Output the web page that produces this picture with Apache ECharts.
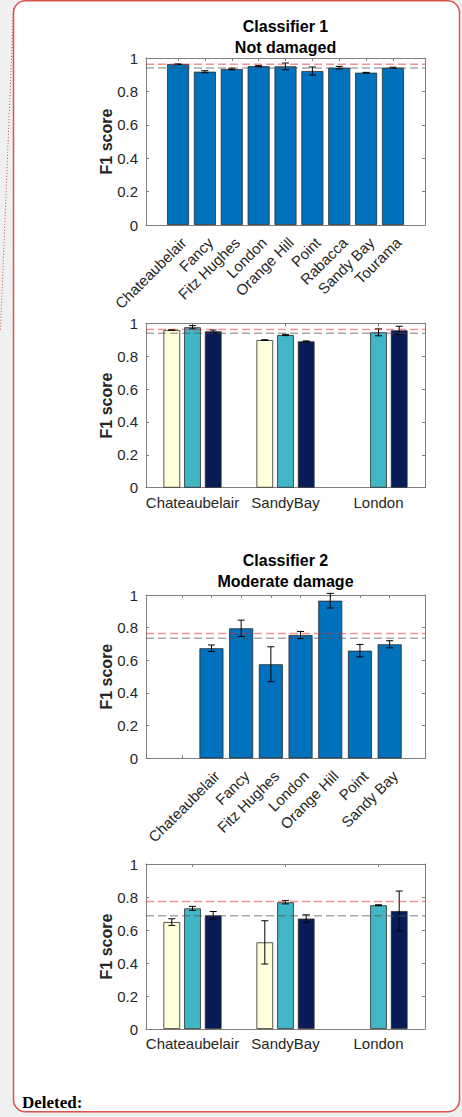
<!DOCTYPE html>
<html><head><meta charset="utf-8">
<script src="https://cdn.jsdelivr.net/npm/echarts@6/dist/echarts.min.js"></script>
<style>html,body{margin:0;padding:0;background:#f0f0f0;}#c{width:462px;height:1117px;}</style>
</head><body><div id="c"></div>
<script>
// ---------- DATA ----------
const sitesC1 = ['Chateaubelair','Fancy','Fitz Hughes','London','Orange Hill','Point','Rabacca','Sandy Bay','Tourama'];
const f1C1 = [0.963,0.918,0.934,0.951,0.950,0.922,0.942,0.912,0.942];
const errC1 = [0.002,0.006,0.005,0.003,0.020,0.024,0.008,0.002,0.003];
const refC1 = [0.962,0.940];            // [red, grey] dashed reference lines

const sitesC2 = ['','Chateaubelair','Fancy','Fitz Hughes','London','Orange Hill','Point','Sandy Bay'];
const f1C2 = [null,0.674,0.796,0.576,0.755,0.965,0.659,0.698];
const errC2 = [null,0.020,0.050,0.107,0.022,0.045,0.038,0.022];
const refC2 = [0.765,0.735];

const groups = ['Chateaubelair','SandyBay','London'];
const ndA = [0.959,0.898,null]; const ndAerr = [0.002,0.002,null];
const ndB = [0.976,0.929,0.945]; const ndBerr = [0.010,0.004,0.021];
const ndC = [0.951,0.890,0.957]; const ndCerr = [0.008,0.003,0.025];
const refND = [0.963,0.939];

const mdA = [0.648,0.525,null]; const mdAerr = [0.020,0.131,null];
const mdB = [0.731,0.768,0.750]; const mdBerr = [0.012,0.010,0.003];
const mdC = [0.689,0.669,0.715]; const mdCerr = [0.023,0.023,0.121];
const refMD = [0.772,0.687];

const titles1 = ['Classifier 1','Not damaged'];
const titles2 = ['Classifier 2','Moderate damage'];
const yName = 'F1 score';

// ---------- STYLE / LAYOUT ----------
const FONT = '"Liberation Sans", Arial, Helvetica, sans-serif';
const AXC = '#7f7f7f', TXT = '#262626';
const BLUE = '#0072BD', YEL = '#FFFFD9', TEAL = '#41B6C4', NAVY = '#081D58';
const FL = 146, FW = 279, LBL_DX = 5.5;
const layouts = [
  {top:58,  height:167,   band:[164.6,406.4], rotate:45, barW:22},
  {top:323.3, height:164.4, band:null, rotate:0, barW:16.7},
  {top:595, height:163.3, band:[166.9,404.5], rotate:45, barW:24},
  {top:864, height:165,   band:null, rotate:0, barW:16.7}
];
const GAPPX = 4;

const grids=[], xAxes=[], yAxes=[], series=[];
const addGrid = g => (grids.push(Object.assign({containLabel:false, outerBoundsMode:'none'}, g)), grids.length-1);
const addX = a => (xAxes.push(a), xAxes.length-1);
const addY = a => (yAxes.push(a), yAxes.length-1);

function errSeries(xi, yi, vals, errs, offset){
  const data=[];
  vals.forEach((v,i)=>{ if(v!=null) data.push([i,v,errs[i]]); });
  return {
    type:'custom', xAxisIndex:xi, yAxisIndex:yi, z:6, silent:true, data,
    renderItem(params, api){
      const i=api.value(0), v=api.value(1), e=api.value(2);
      const t=api.coord([i,v+e]), b=api.coord([i,v-e]);
      const x=t[0]+offset, h=3.5;
      const st={stroke:'#000', lineWidth:1};
      return {type:'group', children:[
        {type:'line', shape:{x1:x,y1:t[1],x2:x,y2:b[1]}, style:st},
        {type:'line', shape:{x1:x-h,y1:t[1],x2:x+h,y2:t[1]}, style:st},
        {type:'line', shape:{x1:x-h,y1:b[1],x2:x+h,y2:b[1]}, style:st}
      ]};
    }
  };
}

function addChart(k, cats, sets, refs){
  const lay = layouts[k];
  const gF = addGrid({left:FL, top:lay.top, width:FW, height:lay.height});
  const bl = lay.band ? lay.band[0] : FL, bw = lay.band ? lay.band[1]-lay.band[0] : FW;
  const gB = addGrid({left:bl, top:lay.top, width:bw, height:lay.height});
  const frameX = pos => ({gridIndex:gF, type:'value', min:0, max:1, position:pos,
    axisLine:{show:true, onZero:false, lineStyle:{color:AXC,width:1}}, axisTick:{show:false},
    axisLabel:{show:false}, splitLine:{show:false}});
  const xF = addX(frameX('bottom')); addX(frameX('top'));
  const tick = {show:true, inside:true, length:3, alignWithLabel:true, interval:0, lineStyle:{color:AXC,width:1}};
  const lblStyle = {interval:0, rotate:lay.rotate, margin: lay.rotate?15:7, fontSize:15, color:TXT, fontFamily:FONT};
  const xB = addX({gridIndex:gB, type:'category', data:cats, position:'bottom', boundaryGap:true,
    axisLine:{show:false, onZero:false}, axisTick:tick,
    axisLabel: lay.rotate ? {show:false} : lblStyle, splitLine:{show:false}});
  addX({gridIndex:gB, type:'category', data:cats, position:'top', boundaryGap:true,
    axisLine:{show:false, onZero:false}, axisTick:tick, axisLabel:{show:false}, splitLine:{show:false}});
  const ytick = {show:true, inside:true, length:3, lineStyle:{color:AXC,width:1}};
  const yF = addY({gridIndex:gF, type:'value', min:0, max:1, interval:0.2, position:'left',
    axisLine:{show:true, onZero:false, lineStyle:{color:AXC,width:1}}, axisTick:ytick,
    axisLabel:{fontSize:15, color:TXT, fontFamily:FONT, margin:8}, splitLine:{show:false},
    name:yName, nameLocation:'middle', nameGap:32, nameMoveOverlap:false,
    nameTextStyle:{fontSize:16, fontWeight:'bold', color:TXT, fontFamily:FONT}});
  addY({gridIndex:gF, type:'value', min:0, max:1, interval:0.2, position:'right',
    axisLine:{show:true, onZero:false, lineStyle:{color:AXC,width:1}}, axisTick:ytick,
    axisLabel:{show:false}, splitLine:{show:false}});
  const yB = addY({gridIndex:gB, type:'value', min:0, max:1, show:false});
  if (lay.rotate) {
    // rotated tick labels, anchored slightly right of the tick as in the original
    const gL = addGrid({left:bl+LBL_DX, top:lay.top, width:bw, height:lay.height});
    addX({gridIndex:gL, type:'category', data:cats, position:'bottom', boundaryGap:true,
      axisLine:{show:false, onZero:false}, axisTick:{show:false}, axisLabel:lblStyle, splitLine:{show:false}});
    addY({gridIndex:gL, type:'value', min:0, max:1, show:false});
  }
  const n = sets.length;
  sets.forEach((s,j)=>{
    series.push({type:'bar', xAxisIndex:xB, yAxisIndex:yB, data:s.v, barWidth:lay.barW,
      barGap: (GAPPX/lay.barW*100)+'%', silent:true, z:2,
      itemStyle:{color:s.c, borderColor:'#2b2b2b', borderWidth:0.8}});
    const off = (j-(n-1)/2)*(lay.barW+GAPPX);
    series.push(errSeries(xB, yB, s.v, s.e, off));
  });
  const refStyle = [
    {color:'rgba(232,40,40,0.5)', width:1.5, type:[8,4]},
    {color:'rgba(80,80,80,0.5)', width:1.5, type:[8,4]}
  ];
  refs.forEach((r,j)=>{
    series.push({type:'line', xAxisIndex:xF, yAxisIndex:yF, data:[[0,r],[1,r]], symbol:'none',
      silent:true, z:8, lineStyle:refStyle[j]});
  });
}

addChart(0, sitesC1, [{v:f1C1, e:errC1, c:BLUE}], refC1);
addChart(1, groups, [{v:ndA,e:ndAerr,c:YEL},{v:ndB,e:ndBerr,c:TEAL},{v:ndC,e:ndCerr,c:NAVY}], refND);
addChart(2, sitesC2, [{v:f1C2, e:errC2, c:BLUE}], refC2);
addChart(3, groups, [{v:mdA,e:mdAerr,c:YEL},{v:mdB,e:mdBerr,c:TEAL},{v:mdC,e:mdCerr,c:NAVY}], refMD);

const cx = FL + FW/2;
const tfont = 'bold 16px ' + FONT;
const graphic = [
  {type:'rect', z:-1, silent:true, shape:{x:13.5, y:0.75, width:446, height:1111, r:12},
    style:{fill:'#ffffff', stroke:'#d9534f', lineWidth:1.5}},
  {type:'polyline', z:-1, silent:true, shape:{points:[[13.5,8],[0.5,330]]},
    style:{stroke:'rgba(200,40,40,0.8)', lineWidth:1, lineDash:[1,2], fill:null}},
  {type:'text', silent:true, x:cx, y:26, style:{text:titles1[0], font:tfont, fill:'#000', align:'center', verticalAlign:'middle'}},
  {type:'text', silent:true, x:cx, y:47.5, style:{text:titles1[1], font:tfont, fill:'#000', align:'center', verticalAlign:'middle'}},
  {type:'text', silent:true, x:cx, y:560, style:{text:titles2[0], font:tfont, fill:'#000', align:'center', verticalAlign:'middle'}},
  {type:'text', silent:true, x:cx, y:581, style:{text:titles2[1], font:tfont, fill:'#000', align:'center', verticalAlign:'middle'}},
  {type:'text', silent:true, x:22, y:1102, style:{text:'Deleted:', font:'bold 17px "Liberation Serif", "Times New Roman", serif', fill:'#000', align:'left', verticalAlign:'middle'}}
];

const chart = echarts.init(document.getElementById('c'), null, {renderer:'svg'});
chart.setOption({
  animation:false, backgroundColor:'#f0f0f0',
  grid:grids, xAxis:xAxes, yAxis:yAxes, series, graphic
});
</script></body></html>
